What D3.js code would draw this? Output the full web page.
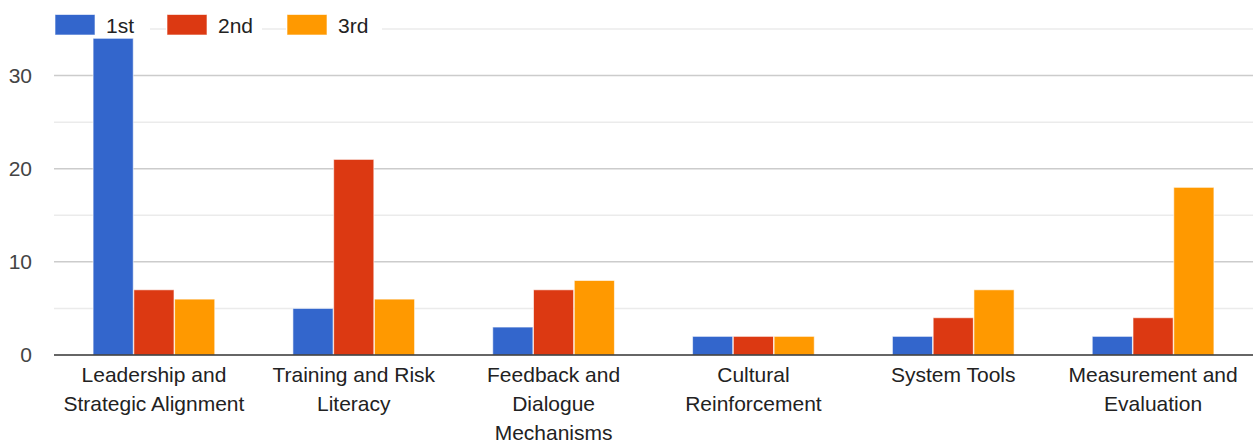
<!DOCTYPE html>
<html>
<head>
<meta charset="utf-8">
<script src="https://cdn.jsdelivr.net/npm/d3@7"></script>
<style>
  html, body { margin: 0; padding: 0; background: #fff; }
  svg { display: block; font-family: "Liberation Sans", Arial, sans-serif; }
</style>
</head>
<body>
<svg id="chart" width="1253" height="441"></svg>
<script>
// Category labels ("\n" marks a line break under the axis)
const categories = [
  "Leadership and\nStrategic Alignment",
  "Training and Risk\nLiteracy",
  "Feedback and\nDialogue\nMechanisms",
  "Cultural\nReinforcement",
  "System Tools",
  "Measurement and\nEvaluation"
];
const seriesNames = ["1st", "2nd", "3rd"];
const firstValues  = [34, 5, 3, 2, 2, 2];
const secondValues = [7, 21, 7, 2, 4, 4];
const thirdValues  = [6, 6, 8, 2, 7, 18];
const majorTicks = [0, 10, 20, 30];
const minorTicks = [5, 15, 25, 35];
const colors = ["#3366cc", "#dc3912", "#ff9900"];

const seriesValues = [firstValues, secondValues, thirdValues];

const W = 1253, H = 441;
const margin = { left: 54, right: 0, top: 29, bottom: 86 };
const svg = d3.select("#chart");

const x0 = d3.scaleBand()
  .domain(categories)
  .range([margin.left, W - margin.right])
  .paddingInner(0.385)
  .paddingOuter(0.1925);

const x1 = d3.scaleBand()
  .domain(seriesNames)
  .range([0, x0.bandwidth()])
  .padding(0.015);

const y = d3.scaleLinear()
  .domain([0, 35])
  .range([H - margin.bottom, margin.top]);

const color = d3.scaleOrdinal().domain(seriesNames).range(colors);

// Minor gridlines
svg.append("g")
  .selectAll("line")
  .data(minorTicks)
  .join("line")
  .attr("x1", margin.left).attr("x2", W)
  .attr("y1", d => y(d)).attr("y2", d => y(d))
  .attr("stroke", "#ebebeb").attr("stroke-width", 1.5);

// Major gridlines
svg.append("g")
  .selectAll("line")
  .data(majorTicks.filter(d => d !== 0))
  .join("line")
  .attr("x1", margin.left).attr("x2", W)
  .attr("y1", d => y(d)).attr("y2", d => y(d))
  .attr("stroke", "#cccccc").attr("stroke-width", 1.5);

// Y axis labels
const yAxis = d3.axisLeft(y).tickValues(majorTicks).tickSize(0).tickPadding(22);
const yg = svg.append("g")
  .attr("transform", `translate(${margin.left},0)`)
  .call(yAxis);
yg.select(".domain").remove();
yg.selectAll("text")
  .attr("font-size", 21)
  .attr("fill", "#444444")
  .attr("font-family", "Liberation Sans, Arial, sans-serif");

// Bars
const rows = categories.map((c, i) => ({
  cat: c,
  vals: seriesNames.map((s, j) => ({ series: s, value: seriesValues[j][i] }))
}));

svg.append("g")
  .selectAll("g")
  .data(rows)
  .join("g")
  .attr("transform", d => `translate(${x0(d.cat)},0)`)
  .selectAll("rect")
  .data(d => d.vals)
  .join("rect")
  .attr("x", d => x1(d.series))
  .attr("width", x1.bandwidth())
  .attr("y", d => y(d.value))
  .attr("height", d => y(0) - y(d.value))
  .attr("fill", d => color(d.series))
  .attr("stroke", "#ffffff")
  .attr("stroke-opacity", 0.6)
  .attr("stroke-width", 1);

// Baseline
svg.append("line")
  .attr("x1", margin.left).attr("x2", W)
  .attr("y1", y(0)).attr("y2", y(0))
  .attr("stroke", "#333333").attr("stroke-width", 1.5);

// Category labels
const xAxis = d3.axisBottom(x0).tickSize(0).tickFormat("");
const xg = svg.append("g")
  .attr("transform", `translate(0,${y(0)})`)
  .call(xAxis);
xg.select(".domain").remove();
xg.selectAll(".tick").each(function (d) {
  const t = d3.select(this).append("text")
    .attr("text-anchor", "middle")
    .attr("font-size", 21)
    .attr("fill", "#222222")
    .attr("font-family", "Liberation Sans, Arial, sans-serif");
  d.split("\n").forEach((line, k) => {
    t.append("tspan").attr("x", 0).attr("y", 27 + k * 29).text(line);
  });
});

// Legend
const legendX = [55, 167, 287];
const legend = svg.append("g")
  .selectAll("g")
  .data(seriesNames)
  .join("g")
  .attr("transform", (d, i) => `translate(${legendX[i]},0)`);

legend.append("rect")
  .attr("x", -1).attr("y", 12)
  .attr("width", 96).attr("height", 26)
  .attr("fill", "#ffffff");
legend.append("rect")
  .attr("x", 0).attr("y", 14.5)
  .attr("width", 40).attr("height", 20.5)
  .attr("fill", d => color(d))
  .attr("stroke", "#ffffff").attr("stroke-opacity", 0.6);
legend.append("text")
  .attr("x", 51).attr("y", 33)
  .attr("font-size", 21)
  .attr("fill", "#222222")
  .text(d => d);
</script>
</body>
</html>
